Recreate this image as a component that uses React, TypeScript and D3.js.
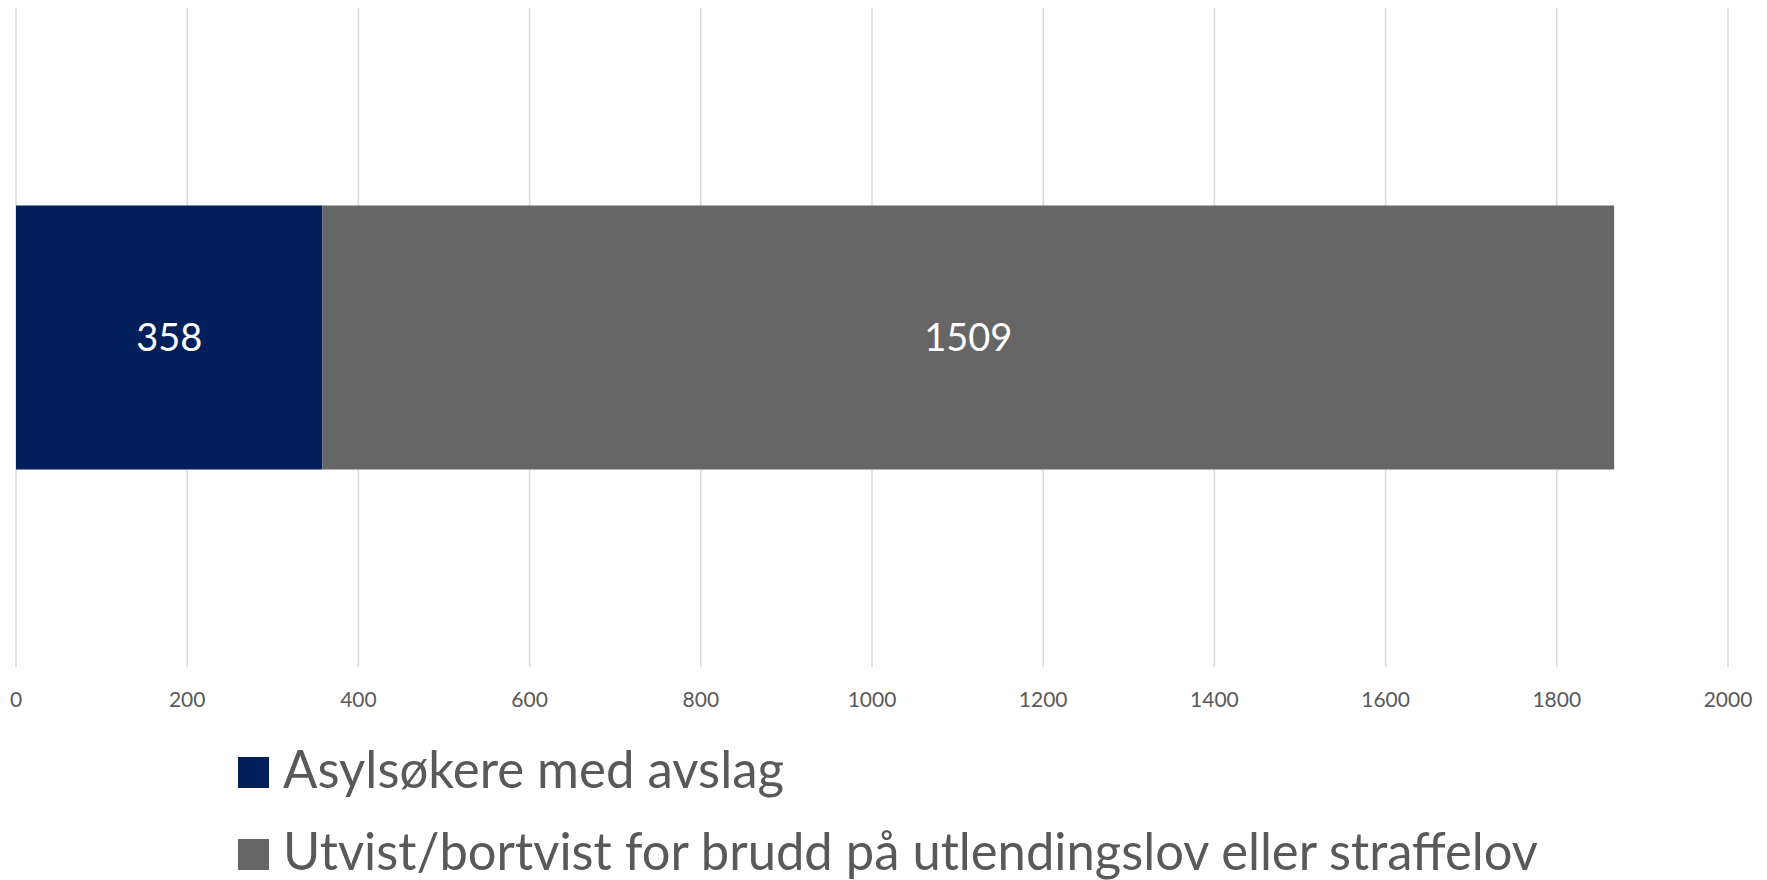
import React, { useRef, useEffect } from 'react';
import * as d3 from 'd3';

const categories = ['Totalt'];
const seriesNames = [
  'Asylsøkere med avslag',
  'Utvist/bortvist for brudd på utlendingslov eller straffelov',
];
const asylValues = [358];
const utvistValues = [1509];
const seriesColors = ['#001F5B', '#666666'];
const tickValues = [0, 200, 400, 600, 800, 1000, 1200, 1400, 1600, 1800, 2000];
// measured label widths so the narrow original font is kept
const legendWidths = [501, 1255];

const App: React.FC = () => {
  const svgRef = useRef<SVGSVGElement>(null);
  const width = 1767;
  const height = 880;

  useEffect(() => {
    if (!svgRef.current) return;
    const svg = d3.select(svgRef.current);
    svg.selectAll('*').remove();

    const font = 'Lato, "Open Sans", sans-serif';
    const plotTop = 8;
    const plotBottom = 667;

    const x = d3.scaleLinear().domain([0, 2000]).range([16, 1728]);
    const y = d3
      .scaleBand<string>()
      .domain(categories)
      .range([plotTop, plotBottom])
      .paddingInner(0)
      .paddingOuter(0.748);

    // Gridlines
    svg
      .append('g')
      .selectAll('line')
      .data(tickValues)
      .enter()
      .append('line')
      .attr('x1', (d) => x(d))
      .attr('x2', (d) => x(d))
      .attr('y1', plotTop)
      .attr('y2', plotBottom)
      .attr('stroke', '#d9d9d9')
      .attr('stroke-width', 1.5);

    // Tick labels
    svg
      .append('g')
      .selectAll('text')
      .data(tickValues)
      .enter()
      .append('text')
      .attr('x', (d) => x(d))
      .attr('y', 707)
      .attr('text-anchor', 'middle')
      .attr('font-family', font)
      .attr('font-size', 21)
      .attr('fill', '#595959')
      .text((d) => d);

    // Stacked bars
    const stacked = categories.map((c, i) => ({
      cat: c,
      values: [asylValues[i], utvistValues[i]],
    }));

    stacked.forEach((row) => {
      let acc = 0;
      row.values.forEach((v, si) => {
        const x0 = x(acc);
        const x1 = x(acc + v);
        const yy = y(row.cat) as number;
        svg
          .append('rect')
          .attr('x', x0)
          .attr('y', yy)
          .attr('width', x1 - x0)
          .attr('height', y.bandwidth())
          .attr('fill', seriesColors[si]);
        svg
          .append('text')
          .attr('x', (x0 + x1) / 2)
          .attr('y', yy + y.bandwidth() / 2)
          .attr('dy', '0.36em')
          .attr('text-anchor', 'middle')
          .attr('font-family', font)
          .attr('font-size', 38)
          .attr('fill', '#ffffff')
          .text(v);
        acc += v;
      });
    });

    // Legend
    const legend = svg
      .append('g')
      .selectAll('g')
      .data(seriesNames)
      .enter()
      .append('g')
      .attr('transform', (d, i) => `translate(238,${757 + i * 82})`);

    legend
      .append('rect')
      .attr('width', 31)
      .attr('height', 31)
      .attr('fill', (d, i) => seriesColors[i]);

    legend
      .append('text')
      .attr('x', 45)
      .attr('y', 31)
      .attr('font-family', font)
      .attr('font-size', 52)
      .attr('fill', '#595959')
      .attr('textLength', (d, i) => legendWidths[i])
      .attr('lengthAdjust', 'spacingAndGlyphs')
      .text((d) => d);
  }, []);

  return (
    <div style={{ position: 'absolute', left: 0, top: 0 }}>
      <svg ref={svgRef} width={width} height={height} style={{ display: 'block' }} />
    </div>
  );
};

export default App;
